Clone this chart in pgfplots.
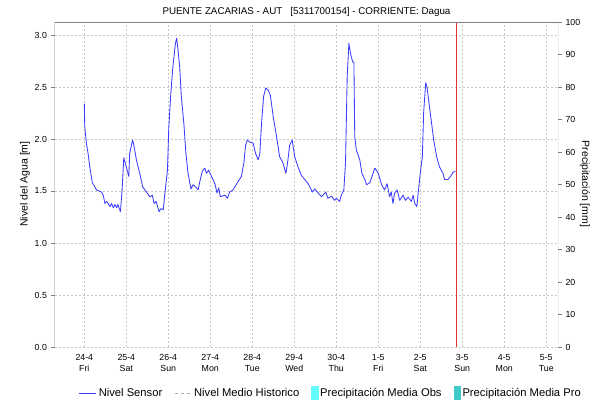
\documentclass[border=0pt]{standalone}
\usepackage{fontspec}
\setmainfont{Liberation Sans}
\usepackage{pgfplots}
\usepackage{pgfplotstable}
\pgfplotsset{compat=1.18}
\definecolor{lineblue}{RGB}{60,60,255}
\definecolor{gridc}{RGB}{200,200,200}
\definecolor{axc}{RGB}{128,128,128}
\definecolor{obs}{RGB}{102,255,255}
\definecolor{pro}{RGB}{64,200,200}
\definecolor{redline}{RGB}{225,50,50}
\pgfplotstableread{
d v
0.00 2.34
0.01 2.12
0.05 1.96
0.09 1.86
0.13 1.73
0.19 1.58
0.25 1.54
0.29 1.51
0.41 1.49
0.45 1.46
0.49 1.38
0.53 1.40
0.57 1.38
0.61 1.35
0.65 1.38
0.69 1.34
0.73 1.37
0.77 1.34
0.80 1.37
0.86 1.30
0.90 1.51
0.94 1.82
1.00 1.73
1.06 1.64
1.08 1.86
1.15 1.99
1.18 1.94
1.24 1.80
1.32 1.67
1.39 1.54
1.48 1.49
1.56 1.445
1.62 1.46
1.66 1.38
1.71 1.40
1.78 1.30
1.82 1.33
1.88 1.32
1.92 1.48
1.98 1.70
2.01 2.09
2.06 2.44
2.11 2.70
2.17 2.92
2.20 2.97
2.23 2.86
2.27 2.70
2.31 2.41
2.37 2.15
2.42 1.86
2.47 1.67
2.54 1.52
2.59 1.56
2.65 1.54
2.71 1.51
2.75 1.59
2.81 1.69
2.87 1.72
2.91 1.67
2.96 1.70
3.03 1.64
3.11 1.57
3.16 1.48
3.20 1.53
3.24 1.445
3.35 1.46
3.41 1.43
3.46 1.49
3.54 1.51
3.66 1.59
3.74 1.64
3.80 1.77
3.84 1.94
3.88 1.99
3.94 1.97
4.02 1.96
4.08 1.86
4.14 1.80
4.18 1.86
4.22 2.15
4.27 2.41
4.32 2.49
4.38 2.47
4.43 2.42
4.50 2.21
4.58 2.02
4.65 1.83
4.73 1.77
4.80 1.67
4.84 1.77
4.89 1.94
4.95 1.99
5.01 1.83
5.09 1.73
5.17 1.65
5.25 1.61
5.33 1.57
5.37 1.54
5.43 1.49
5.49 1.52
5.57 1.48
5.65 1.445
5.75 1.49
5.80 1.43
5.89 1.45
5.96 1.41
6.00 1.43
6.08 1.40
6.12 1.46
6.18 1.51
6.22 1.77
6.26 2.60
6.30 2.92
6.34 2.82
6.39 2.74
6.42 2.74
6.44 2.02
6.48 1.89
6.56 1.80
6.61 1.67
6.68 1.61
6.72 1.56
6.80 1.58
6.86 1.65
6.92 1.72
7.00 1.67
7.08 1.56
7.15 1.51
7.21 1.57
7.27 1.445
7.31 1.49
7.35 1.38
7.39 1.48
7.45 1.51
7.51 1.41
7.59 1.46
7.65 1.41
7.71 1.44
7.79 1.40
7.83 1.46
7.87 1.38
7.92 1.35
7.95 1.48
8.00 1.67
8.05 1.83
8.08 2.25
8.13 2.54
8.16 2.50
8.21 2.34
8.27 2.15
8.32 1.99
8.39 1.83
8.46 1.73
8.54 1.67
8.58 1.61
8.66 1.61
8.72 1.64
8.78 1.68
8.84 1.69
}\nivel
\begin{document}
\begin{tikzpicture}[x=1pt,y=1pt]
\path[use as bounding box] (0,0) rectangle (592,404);
\begin{axis}[
  at={(54.5pt,57pt)}, anchor=south west,
  width=503.5pt, height=325pt, scale only axis,
  xmin=-0.71, xmax=11.28, ymin=0, ymax=3.125,
  axis line style={draw=none},
  xtick={0,1,...,11},
  xticklabels={{24-4\\Fri},{25-4\\Sat},{26-4\\Sun},{27-4\\Mon},{28-4\\Tue},{29-4\\Wed},{30-4\\Thu},{1-5\\Fri},{2-5\\Sat},{3-5\\Sun},{4-5\\Mon},{5-5\\Tue}},
  xticklabel style={align=center, font=\fontsize{8.8}{10.5}\selectfont},
  x tick style={draw=none},
  ytick={0,0.5,...,3.0},
  yticklabel style={/pgf/number format/fixed,/pgf/number format/precision=1,/pgf/number format/fixed zerofill, font=\fontsize{8.8}{10}\selectfont},
  /pgf/number format/assume math mode=true,
  ytick pos=left, tick align=outside, major tick length=4pt,
  y tick style={axc},
  grid=major, major grid style={gridc, dash pattern=on 2pt off 2pt},
  legend style={at={(0.042,-0.1415)}, anchor=west, draw=none, fill=none,
    font=\fontsize{11.2}{13}\selectfont, legend columns=4,
    /tikz/every even column/.append style={column sep=10pt}},
  legend cell align=left,
]
\addplot[lineblue, line width=0.85pt, line join=round] table[x=d,y=v] {\nivel};
\addlegendentry{Nivel Sensor}
\addlegendimage{gridc!70!gray, dash pattern=on 3pt off 3pt, line width=0.8pt}
\addlegendentry{Nivel Medio Historico}
\addlegendimage{legend image code/.code={\fill[obs] (0pt,-6.5pt) rectangle (6.5pt,6.5pt);}}
\addlegendentry{Precipitación Media Obs}
\addlegendimage{legend image code/.code={\fill[pro] (0pt,-6.5pt) rectangle (6.5pt,6.5pt);}}
\addlegendentry{Precipitación Media Pro}
\addplot[redline, line width=0.8pt, forget plot] coordinates {(8.87,0) (8.87,3.125)};
\draw[axc, line width=0.8pt] (rel axis cs:0,0) -- (rel axis cs:0,1) -- (rel axis cs:1,1) -- (rel axis cs:1,0);
\draw[axc!70!black, line width=0.8pt, dash pattern=on 1pt off 1pt] (rel axis cs:0,0) -- (rel axis cs:1,0);
\end{axis}
\begin{axis}[
  at={(54.5pt,57pt)}, anchor=south west,
  width=503.5pt, height=325pt, scale only axis,
  xmin=-0.71, xmax=11.28, ymin=0, ymax=100,
  axis x line=none, axis y line*=right,
  axis line style={draw=none},
  ytick={0,10,...,100},
  tick align=outside, major tick length=4pt,
  y tick style={axc},
  yticklabel style={font=\fontsize{8.8}{10}\selectfont},
  /pgf/number format/assume math mode=true,
]
\addplot[draw=none, forget plot] coordinates {(0,0)};
\end{axis}
\node[font=\fontsize{9.8}{11}\selectfont] at (306.5,392) {PUENTE ZACARIAS - AUT\ \ \ [5311700154] - CORRIENTE: Dagua};
\node[font=\fontsize{10.5}{12}\selectfont, rotate=90] at (25,220) {Nivel del Agua [m]};
\node[font=\fontsize{10.5}{12}\selectfont, rotate=-90] at (585,220) {Precipitación [mm]};
\end{tikzpicture}
\end{document}
